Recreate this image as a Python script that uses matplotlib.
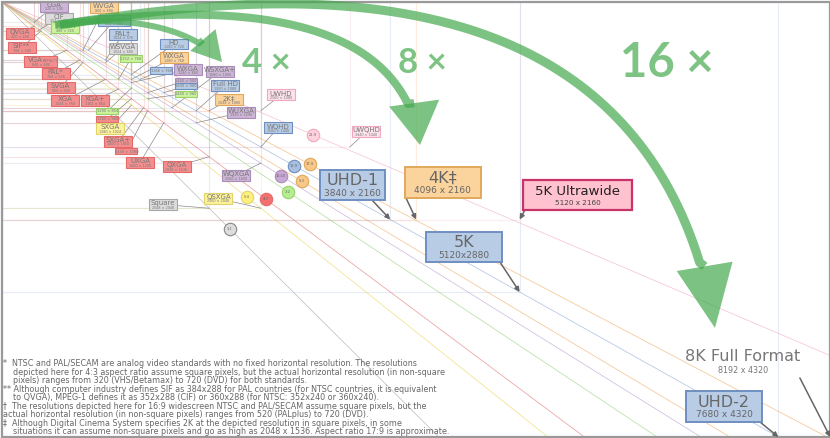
import numpy as np
import matplotlib.pyplot as plt
from matplotlib.patches import Rectangle, Polygon

# display standards: name, width, height, aspect colour group
names = ["CGA", "CIF", "HVGA", "QVGA", "SIF**", "VGA (NTSC*)", "PAL*", "SVGA", "XGA", "XGA+",
         "", "", "SXGA", "SXGA+", "", "UXGA", "QXGA",
         "WVGA", "WVGA (NTSC†)", "PAL†", "WSVGA", "", "HD", "WXGA", "", "WXGA", "", "", "",
         "WSXGA+", "Full HD", "2K‡", "WUXGA", "UWHD", "WQHD", "UWQHD", "WQXGA", "QSXGA", "Square"]
widths = [320, 352, 480, 320, 384, 640, 768, 800, 1024, 1152,
          1280, 1280, 1280, 1400, 1440, 1600, 2048,
          800, 854, 1024, 1024, 1152, 1280, 1280, 1366, 1280, 1440, 1600, 1440,
          1680, 1920, 2048, 1920, 2560, 2560, 3440, 2560, 2560, 2048]
heights = [200, 288, 320, 240, 288, 480, 576, 600, 768, 864,
           854, 960, 1024, 1050, 1080, 1200, 1536,
           480, 480, 576, 600, 768, 720, 768, 768, 800, 900, 900, 960,
           1050, 1080, 1080, 1200, 1080, 1440, 1440, 1600, 2048, 2048]
groups = ["purple", "gray", "green", "red", "red", "red", "red", "red", "red", "red",
          "green", "red", "yellow", "red", "red", "red", "red",
          "orange", "blue", "blue", "gray", "green", "blue", "orange", "blue", "purple", "purple", "blue", "green",
          "purple", "blue", "orange", "purple", "pink", "blue", "pink", "purple", "yellow", "gray"]

# where each small label box sits (in the same pixel space)
label_x = [514, 559, 623, 173, 193, 381, 529, 579, 623, 920,
           1043, 1043, 1068, 1152, 1231, 1365, 1726,
           1009, 1108, 1192, 1192, 1276, 1701, 1701, 1573, 1835, 1820, 1820, 1820,
           2156, 2205, 2245, 2364, 2759, 2730, 3605, 2314, 2141, 1592]
label_y = [40, 159, 253, 313, 452, 591, 710, 849, 978, 978,
           1082, 1162, 1256, 1385, 1484, 1594, 1634,
           55, 184, 323, 462, 561, 417, 551, 680, 675, 780, 834, 909,
           690, 829, 973, 1097, 923, 1251, 1286, 1723, 1951, 2011]

# large formats
big_names = ["UHD-1", "4K‡", "5K Ultrawide", "5K", "UHD-2", "8K Full Format"]
big_res = ["3840 x 2160", "4096 x 2160", "5120 x 2160", "5120x2880", "7680 x 4320", "8192 x 4320"]
big_w = [3840, 4096, 5120, 5120, 7680, 8192]
big_h = [2160, 2160, 2160, 2880, 4320, 4320]
big_groups = ["blue", "orange", "pink", "blue", "blue", "gray"]
big_box_xy = [(3466, 1817), (4361, 1792), (5692, 1916), (4569, 2433), (7141, 4017), (7329, 3590)]
big_box_wh = [(643, 298), (752, 308), (1078, 298), (752, 298), (752, 308), (0, 0)]
big_arrow_from = [(3659, 1966), (3996, 1946), (5172, 2066), (4925, 2582), (7497, 4171), (7892, 3734)]

# aspect ratio guide lines
ratio_labels = ["4:3", "5:4", "3:2", "16:10", "5:3", "16:9", "17:9", "21:9", "1:1"]
ratio_w = [4, 5, 3, 16, 5, 16, 17, 21, 1]
ratio_h = [3, 4, 2, 10, 3, 9, 9, 9, 1]
ratio_groups = ["red", "yellow", "green", "purple", "orange", "blue", "orange", "pink", "gray"]
ratio_mark_w = [2611, 2423, 2829, 2759, 2967, 2888, 3046, 3076, 2255]

box_fill = {"red": "#f48e8e", "purple": "#cdb5d6", "orange": "#fbd39c", "blue": "#b8cce6",
            "gray": "#dcdcdc", "yellow": "#fdf29c", "green": "#cbf39d", "pink": "#fde1eb"}
box_edge = {"red": "#e46a6a", "purple": "#aa8cb8", "orange": "#e0a85c", "blue": "#6f8fc0",
            "gray": "#a8a8a8", "yellow": "#e0d36c", "green": "#9ad06a", "pink": "#f0a8c0"}
line_col = {"red": "#e06060", "purple": "#b090c8", "orange": "#f0a050", "blue": "#7f9fd0",
            "gray": "#999999", "yellow": "#e8d040", "green": "#88cc66", "pink": "#f2a0b8"}
circle_fill = {"red": "#f27070", "purple": "#c8a8d4", "orange": "#f8c888", "blue": "#a8c0e0",
               "gray": "#dddddd", "yellow": "#fff07a", "green": "#b4ee90", "pink": "#ffd2de"}

# green "n x" arrows: cubic control points
arrow_paths = [
    [(573, 228), (2453, -69), (6408, -616), (7052, 3237)],
    [(524, 228), (1958, 30), (3936, -20), (4134, 1420)],
    [(573, 228), (1167, 129), (1859, 228), (2176, 596)],
]
arrow_body_lw = [6.5, 5.8, 4.3]
arrow_head = [(620, 560), (420, 500), (290, 330)]  # length, width
mult_labels = ["16 ×", "8 ×", "4 ×"]
mult_xy = [(6580, 607), (4155, 607), (2611, 607)]
mult_size = [34, 25, 25]

footnote = (
    "*  NTSC and PAL/SECAM are analog video standards with no fixed horizontal resolution. The resolutions\n"
    "    depicted here for 4:3 aspect ratio assume square pixels, but the actual horizontal resolution (in non-square\n"
    "    pixels) ranges from 320 (VHS/Betamax) to 720 (DVD) for both standards.\n"
    "** Although computer industry defines SIF as 384x288 for PAL countries (for NTSC countries, it is equivalent\n"
    "    to QVGA), MPEG-1 defines it as 352x288 (CIF) or 360x288 (for NTSC: 352x240 or 360x240).\n"
    "†  The resolutions depicted here for 16:9 widescreen NTSC and PAL/SECAM assume square pixels, but the\n"
    "actual horizontal resolution (in non-square pixels) ranges from 520 (PALplus) to 720 (DVD).\n"
    "‡  Although Digital Cinema System specifies 2K at the depicted resolution in square pixels, in some\n"
    "    situations it can assume non-square pixels and go as high as 2048 x 1536. Aspect ratio 17:9 is approximate."
)

fig = plt.figure(figsize=(8.3, 4.38), dpi=100)
ax = fig.add_axes([0, 0, 1, 1])
ax.set_xlim(-20, 8190)
ax.set_ylim(4330, -20)
ax.axis("off")

# resolution rectangles
for w, h, g in zip(widths + big_w[:-1], heights + big_h[:-1], groups + big_groups[:-1]):
    ax.add_patch(Rectangle((0, 0), w, h, fill=False, ec=line_col[g], lw=0.8, alpha=0.18, zorder=1))
ax.add_patch(Rectangle((0, 0), big_w[-1], big_h[-1], fill=False, ec="#999999", lw=1.6, zorder=6))

# aspect ratio lines and markers
for lab, rw, rh, g, mw in zip(ratio_labels, ratio_w, ratio_h, ratio_groups, ratio_mark_w):
    ax.plot([0, 9000], [0, 9000 * rh / rw], color=line_col[g], lw=0.55, alpha=0.6, zorder=2)
    ax.scatter([mw], [mw * rh / rw], s=80, color=circle_fill[g],
               edgecolors=box_edge[g] if g != "gray" else "#888888", linewidths=0.8, zorder=5)
    ax.text(mw, mw * rh / rw, lab, fontsize=2.6, color="#666666", ha="center", va="center", zorder=6)

# small labelled boxes
for name, w, h, g, lx, ly in zip(names, widths, heights, groups, label_x, label_y):
    ax.plot([lx, w], [ly, h], color="#8a8a8a", lw=0.5, zorder=3)
    if name:
        bw = 320 if "(" in name else 277
        bh = 109
    else:
        bw, bh = 218, 60
    ax.add_patch(Rectangle((lx - bw / 2, ly - bh / 2), bw, bh, fc=box_fill[g], ec=box_edge[g],
                           lw=0.8, zorder=4))
    res = f"{w} × {h}"
    if name:
        if " (" in name:
            main, sub = name.split(" ", 1)
            ax.text(lx + 20, ly - 12, main, fontsize=5.0, color="#777777", ha="right", va="center", zorder=5)
            ax.text(lx + 25, ly - 8, sub, fontsize=2.8, color="#777777", ha="left", va="center", zorder=5)
        else:
            ax.text(lx, ly - 12, name, fontsize=5.0, color="#777777", ha="center", va="center", zorder=5)
        ax.text(lx, ly + 30, res, fontsize=2.4, color="#777777", ha="center", va="center", zorder=5)
    else:
        ax.text(lx, ly + 2, res, fontsize=2.6, color="#777777", ha="center", va="center", zorder=5)

# large formats
for name, res, w, h, g, (bx, by), (bw, bh), (ax0, ay0) in zip(big_names, big_res, big_w, big_h, big_groups,
                                                             big_box_xy, big_box_wh, big_arrow_from):
    ax.annotate("", xy=(w, h), xytext=(ax0, ay0),
                arrowprops=dict(arrowstyle="-|>", color="#666666", lw=1.1, mutation_scale=7,
                                shrinkA=0, shrinkB=0), zorder=6)
    if name == "5K Ultrawide":
        ax.add_patch(Rectangle((bx - bw / 2, by - bh / 2), bw, bh, fc="#ffc2ce", ec="#c8336a",
                               lw=1.6, zorder=7))
        ax.text(bx, by - 35, name, fontsize=9.5, color="#222222", ha="center", va="center", zorder=8)
        ax.text(bx, by + 85, res, fontsize=5.2, color="#444444", ha="center", va="center", zorder=8)
        continue
    if bw > 0:
        ax.add_patch(Rectangle((bx - bw / 2, by - bh / 2), bw, bh, fc=box_fill[g], ec=box_edge[g],
                               lw=1.4, zorder=7))
        ax.text(bx, by - 40, name, fontsize=11.5, color="#666666", ha="center", va="center", zorder=8)
        ax.text(bx, by + 80, res, fontsize=6.5, color="#666666", ha="center", va="center", zorder=8)
    else:
        ax.text(bx, by - 65, name, fontsize=11.5, color="#777777", ha="center", va="center", zorder=8)
        ax.text(bx, by + 65, res, fontsize=5.8, color="#777777", ha="center", va="center", zorder=8)


# green growth arrows
def bezier(p, n=200):
    p = np.array(p, dtype=float)
    t = np.linspace(0, 1, n)[:, None]
    return ((1 - t) ** 3 * p[0] + 3 * (1 - t) ** 2 * t * p[1]
            + 3 * (1 - t) * t ** 2 * p[2] + t ** 3 * p[3])


green = "#45a94e"
for pts, lw, (hl, hw) in zip(arrow_paths, arrow_body_lw, arrow_head):
    curve = bezier(pts)
    tip = np.array(pts[3], dtype=float)
    u = tip - np.array(pts[2], dtype=float)
    u /= np.hypot(*u)
    base = tip - hl * u
    keep = np.hypot(*(curve - tip).T) > hl
    body = np.vstack([curve[keep], base])
    ax.plot(body[:, 0], body[:, 1], color=green, alpha=0.7, lw=lw, solid_capstyle="butt", zorder=9)
    nrm = np.array([-u[1], u[0]])
    ax.add_patch(Polygon([base + nrm * hw / 2, tip, base - nrm * hw / 2], closed=True,
                         fc=green, ec="none", alpha=0.7, zorder=9))

for lab, (mx, my), fs in zip(mult_labels, mult_xy, mult_size):
    ax.text(mx, my, lab, fontsize=fs, color="#7dc383", fontweight="bold", family="Lato",
            ha="center", va="center", zorder=10)

fig.text(0.004, 1 - 359 / 438, footnote, fontsize=5.8, color="#666666", va="top", ha="left",
         linespacing=0.93)

fig.savefig("out.png", dpi=100)
